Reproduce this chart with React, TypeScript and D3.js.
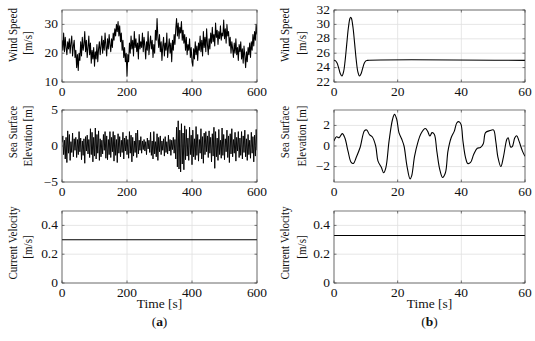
import React from 'react';
import * as d3 from 'd3';

// (a) irregular wind, sampled every 2.5 s
const windStepA = 2.5;
const windA = [
  24.5, 21.0, 27.0, 20.5, 25.5, 22.0, 19.5, 24.0, 21.5, 25.0, 20.0, 23.5, 26.0, 19.0, 22.5, 24.5, 18.5, 21.0, 15.0, 19.5,
  14.0, 20.0, 17.5, 24.0, 19.0, 25.5, 21.0, 23.0, 27.5, 20.5, 24.5, 18.5, 22.0, 26.0, 19.5, 23.5, 16.5, 21.0, 18.0, 22.0,
  15.5, 20.5, 18.0, 23.0, 17.0, 21.5, 24.0, 19.5, 22.5, 26.0, 20.0, 24.5, 21.0, 27.0, 22.5, 19.0, 25.0, 21.5, 26.5, 23.0,
  20.5, 25.0, 22.0, 27.0, 24.5, 28.5, 26.0, 30.0, 27.5, 31.0, 26.0, 29.5, 24.0, 27.0, 21.0, 24.5, 18.5, 22.0, 17.0, 20.0,
  12.0, 19.5, 17.0, 23.5, 20.0, 26.0, 21.5, 24.5, 19.0, 27.5, 22.0, 25.0, 20.5, 23.5, 18.0, 26.5, 21.5, 24.0, 22.0, 27.0,
  20.5, 25.5, 22.5, 18.0, 24.0, 21.0, 27.5, 19.5, 23.0, 26.0, 21.5, 24.5, 18.5, 23.0, 20.0, 28.0, 24.5, 32.0, 25.5, 22.0,
  26.5, 20.5, 24.0, 17.5, 22.5, 25.5, 19.0, 23.5, 21.0, 27.0, 18.5, 22.0, 25.0, 20.0, 23.5, 17.0, 24.5, 21.0, 26.5, 23.0,
  28.5, 32.0, 26.0, 30.5, 25.0, 29.0, 27.0, 31.0, 24.5, 28.0, 23.5, 26.5, 21.0, 25.5, 19.5, 23.0, 21.0, 25.0, 18.5, 22.0,
  17.0, 15.5, 21.5, 18.0, 24.0, 19.5, 22.5, 17.5, 23.5, 21.0, 26.0, 20.5, 24.5, 19.0, 27.5, 22.0, 25.5, 20.5, 28.5, 23.0,
  19.5, 25.0, 21.5, 27.0, 23.5, 29.0, 24.0, 26.5, 22.5, 30.5, 25.5, 28.0, 23.0, 27.5, 25.0, 29.5, 24.5, 27.0, 26.0, 31.5,
  25.0, 28.5, 23.5, 30.0, 26.0, 27.5, 22.5, 25.5, 20.0, 24.0, 21.5, 18.5, 23.5, 20.0, 25.0, 19.5, 22.0, 17.5, 23.0, 20.5,
  24.0, 18.0, 21.5, 16.5, 22.5, 19.0, 15.0, 20.5, 17.0, 22.0, 19.5, 23.5, 18.5, 24.0, 21.0, 26.5, 22.5, 27.5, 24.5, 30.0,
  26.5,
];

// (a) irregular sea surface elevation, sampled every 2.5 s
const seaStepA = 2.5;
const seaA = [
  0.5, 1.4, -1.2, 0.8, -1.8, 1.2, -2.3, 2.1, -1.0, 1.6, -2.0, 0.6, -0.9, 1.8, -1.5, 1.0, -0.6, 1.2, -1.6, 0.9,
  -1.2, 2.0, -0.8, 1.1, -1.9, 0.7, -1.3, 1.0, -2.4, 1.3, -0.7, 1.5, -1.1, 0.9, -1.6, 2.4, -1.2, 1.9, -2.2, 1.2,
  -1.4, 2.5, -1.8, 1.6, -1.0, 2.1, -2.0, 1.0, -1.5, 0.8, -1.1, 1.6, -0.6, 2.0, -1.7, 1.4, -1.9, 0.9, -1.2, 2.0,
  -1.6, 1.2, -0.8, 2.0, -2.1, 1.5, -1.3, 0.9, -2.3, 1.7, -1.0, 1.3, -1.5, 0.8, -0.9, 1.9, -1.8, 1.1, -0.7, 1.4,
  -1.2, 0.9, -1.7, 2.0, -1.0, 1.5, -2.2, 1.2, -1.4, 0.7, -0.9, 1.8, -1.6, 2.2, -1.1, 0.8, -0.6, 1.3, -1.0, 0.7,
  -0.5, 0.9, -0.7, 0.6, -1.2, 1.1, -0.4, 0.8, -0.9, 1.9, -1.3, 0.7, -1.8, 2.0, -1.1, 0.6, -1.5, 1.7, -2.0, 1.2,
  -0.8, 1.4, -1.2, 0.7, -0.6, 1.0, -1.4, 1.3, -0.9, 0.6, -1.1, 1.5, -0.7, 0.9, -1.3, 0.8, -0.5, 1.2, -1.0, 0.9,
  -1.8, 2.6, -2.9, 3.5, -3.2, 2.2, -3.6, 3.1, -2.5, 1.8, -3.3, 2.8, -1.9, 2.3, -1.4, 1.1, -2.0, 2.6, -1.2, 1.5,
  -2.6, 2.2, -1.5, 1.0, -1.9, 2.7, -1.3, 1.6, -2.1, 0.9, -1.0, 2.4, -1.8, 1.3, -2.4, 1.8, -1.2, 2.0, -0.8, 1.4,
  -1.6, 2.1, -1.0, 1.2, -2.2, 1.7, -1.4, 2.6, -3.1, 2.0, -1.5, 1.1, -2.0, 2.3, -1.2, 0.8, -1.7, 2.5, -1.3, 1.6,
  -1.9, 1.0, -0.8, 2.2, -1.6, 1.4, -2.3, 1.7, -1.1, 2.4, -1.5, 0.9, -1.0, 1.9, -2.1, 1.2, -0.7, 2.0, -1.6, 1.1,
  -1.3, 2.0, -1.8, 1.4, -0.9, 2.2, -1.5, 1.0, -2.0, 1.6, -1.2, 0.8, -1.7, 1.9, -1.0, 1.3, -2.2, 1.5, -1.4, 2.3,
  -0.6,
];

// (b) gust
const gustTime = [0, 0.5, 1, 1.5, 2, 2.5, 3, 3.5, 4, 4.5, 5, 5.25, 5.5, 6, 6.5, 7, 7.5, 8, 8.5, 9, 9.5, 10, 10.5, 60];
const gustSpeed = [25, 24.94, 24.59, 23.9, 23.14, 22.83, 23.41, 25, 27.26, 29.46, 30.82, 31, 30.82, 29.46, 27.26, 25, 23.41, 22.83, 23.14, 23.9, 24.59, 24.94, 25, 25];

// (b) sea surface elevation
const seaTimeB = [0, 0.8, 1.6, 2.6, 3.4, 4.4, 5.4, 6.1, 7, 8.2, 9.6, 10.3, 11.2, 12, 13.1, 13.8, 14.9, 15.6, 16.3, 17.3,
  18.4, 19, 19.7, 20.4, 21.3, 22, 22.9, 23.9, 24.4, 25.3, 26.3, 27.3, 28.7, 29.4, 30.1, 30.8, 31.5, 32.3, 33.2, 34.1,
  35, 35.8, 36.8, 37.8, 38.6, 39.3, 39.9, 40.5, 41.3, 42, 42.9, 43.9, 45, 46, 46.9, 47.6, 49, 50.1, 50.8, 51.5,
  52.4, 53.2, 54.3, 54.7, 55.5, 56, 56.8, 57.4, 58.1, 59.2, 60];
const seaElevB = [0.48, 0.9, 0.8, 1.2, 0.8, -0.5, -1.6, -1.7, -1.1, -0.15, 1.5, 1.55, 1.07, 0.9, 0, -1.45, -2.1, -2.6, -2.1, 0.5,
  2.6, 3.07, 2.6, 1.3, 0.65, 0, -1.9, -3.2, -2.9, -1.0, 0.3, 1.2, 1.7, 1.45, 0.97, 1.3, 1.15, -0.5, -2.25, -3.06,
  -2.6, -0.5, 0.8, 1.45, 2.26, 2.36, 2.1, 0.5, -1.1, -1.7, -1.6, -0.8, -0.22, -0.15, 0.22, 1.3, 1.5, 1.57, 0.5, -1.1,
  -2.0, -1.1, 0.65, 0.8, -0.1, -0.06, 0.8, 1.0, 0.5, -0.5, -1.0];

const currentA = 0.3;
const currentB = 0.33;

const font = 'Liberation Serif';
const squash = 0.85;
const fmt = (v: number) => String(v).replace('-', '\u2212');

type Pt = [number, number];

const cols = [
  { x0: 62, x1: 257, domain: [0, 600], ticks: [0, 200, 400, 600], label: 'a', l1: 13, l2: 28 },
  { x0: 334, x1: 525, domain: [0, 60], ticks: [0, 20, 40, 60], label: 'b', l1: 285, l2: 302 },
];
const rows = [
  { y0: 10, y1: 82, lab1: 'Wind Speed', lab2: '[m/s]', c1: 35, c2: 43 },
  { y0: 110, y1: 182, lab1: 'Sea Surface', lab2: 'Elevation [m]', c1: 132, c2: 136 },
  { y0: 211, y1: 283, lab1: 'Current Velocity', lab2: '[m/s]', c1: 243, c2: 247 },
];

const panels: { col: number; row: number; yDomain: number[]; yTicks: number[]; pts: Pt[]; smooth: boolean; sw: number }[] = [
  { col: 0, row: 0, yDomain: [10, 35], yTicks: [10, 20, 30], pts: windA.map((v, i) => [i * windStepA, v] as Pt), smooth: false, sw: 1.05 },
  { col: 0, row: 1, yDomain: [-5, 5], yTicks: [-5, 0, 5], pts: seaA.map((v, i) => [i * seaStepA, v] as Pt), smooth: false, sw: 0.95 },
  { col: 0, row: 2, yDomain: [0, 0.5], yTicks: [0, 0.2, 0.4], pts: [[0, currentA], [600, currentA]], smooth: false, sw: 1.1 },
  { col: 1, row: 0, yDomain: [22, 32], yTicks: [22, 24, 26, 28, 30, 32], pts: gustTime.map((t, i) => [t, gustSpeed[i]] as Pt), smooth: true, sw: 1.1 },
  { col: 1, row: 1, yDomain: [-3.5, 3.5], yTicks: [-2, 0, 2], pts: seaTimeB.map((t, i) => [t, seaElevB[i]] as Pt), smooth: true, sw: 1.1 },
  { col: 1, row: 2, yDomain: [0, 0.5], yTicks: [0, 0.2, 0.4], pts: [[0, currentB], [60, currentB]], smooth: false, sw: 1.1 },
];

const T = ({ x, y, rot, size = 13.5, anchor = 'middle', children }: any) => (
  <text
    transform={`translate(${x},${y}) scale(1,${squash})${rot ? ' rotate(-90)' : ''}`}
    fontFamily={font}
    fontSize={size}
    textAnchor={anchor}
    dominantBaseline="central"
    fill="#111"
  >
    {children}
  </text>
);

const Panel = ({ p, idx }: { p: (typeof panels)[number]; idx: number }) => {
  const c = cols[p.col];
  const r = rows[p.row];
  const x = d3.scaleLinear().domain(c.domain).range([c.x0, c.x1]);
  const y = d3.scaleLinear().domain(p.yDomain).range([r.y1, r.y0]);
  const line = d3
    .line<Pt>()
    .x((d) => x(d[0]))
    .y((d) => y(d[1]))
    .curve(p.smooth ? d3.curveCatmullRom : d3.curveLinear);
  const tk = 2.5;
  return (
    <g>
      <defs>
        <clipPath id={`clip${idx}`}>
          <rect x={c.x0} y={r.y0} width={c.x1 - c.x0} height={r.y1 - r.y0} />
        </clipPath>
      </defs>
      {c.ticks.map((t) => (
        <line key={'gx' + t} x1={x(t)} x2={x(t)} y1={r.y0} y2={r.y1} stroke="#e0e0e0" strokeWidth={0.8} />
      ))}
      {p.yTicks.map((t) => (
        <line key={'gy' + t} x1={c.x0} x2={c.x1} y1={y(t)} y2={y(t)} stroke="#e0e0e0" strokeWidth={0.8} />
      ))}
      <path d={line(p.pts) || ''} fill="none" stroke="#000" strokeWidth={p.sw} strokeLinejoin="round" clipPath={`url(#clip${idx})`} />
      <rect x={c.x0} y={r.y0} width={c.x1 - c.x0} height={r.y1 - r.y0} fill="none" stroke="#404040" strokeWidth={0.7} />
      {c.ticks.map((t) => (
        <g key={'tx' + t}>
          <line x1={x(t)} x2={x(t)} y1={r.y1} y2={r.y1 - tk} stroke="#404040" strokeWidth={0.7} />
          <line x1={x(t)} x2={x(t)} y1={r.y0} y2={r.y0 + tk} stroke="#404040" strokeWidth={0.7} />
          <T x={x(t)} y={r.y1 + 10}>{fmt(t)}</T>
        </g>
      ))}
      {p.yTicks.map((t) => (
        <g key={'ty' + t}>
          <line x1={c.x0} x2={c.x0 + tk} y1={y(t)} y2={y(t)} stroke="#404040" strokeWidth={0.7} />
          <line x1={c.x1} x2={c.x1 - tk} y1={y(t)} y2={y(t)} stroke="#404040" strokeWidth={0.7} />
          <T x={c.x0 - 4} y={y(t)} anchor="end">{fmt(t)}</T>
        </g>
      ))}
      <T x={c.l1} y={r.c1} rot size={13}>{r.lab1}</T>
      <T x={c.l2} y={r.c2} rot size={13}>{r.lab2}</T>
    </g>
  );
};

export default function App() {
  return (
    <svg width={535} height={341} style={{ position: 'absolute', left: 0, top: 0, background: '#fff' }}>
      <rect width={535} height={341} fill="#fff" />
      {panels.map((p, i) => (
        <Panel key={i} p={p} idx={i} />
      ))}
      {cols.map((c) => {
        const cx = (c.x0 + c.x1) / 2;
        return (
          <g key={c.label}>
            <T x={cx} y={304}>Time [s]</T>
            <T x={cx} y={322}>
              (<tspan fontWeight="bold">{c.label}</tspan>)
            </T>
          </g>
        );
      })}
    </svg>
  );
}
